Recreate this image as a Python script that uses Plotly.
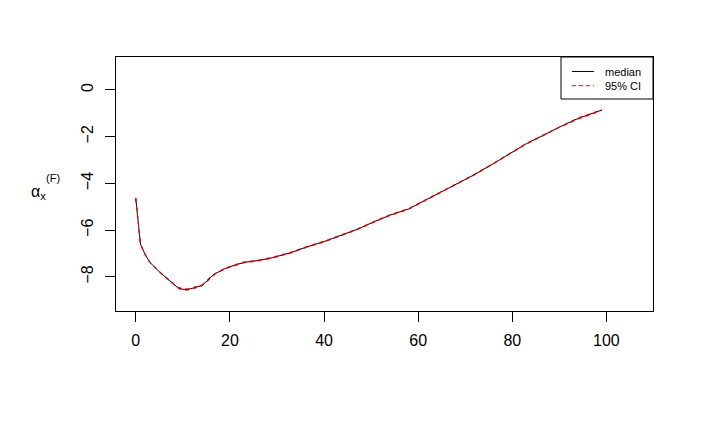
import plotly.graph_objects as go

ages = [0, 1, 2, 3, 5, 7, 9, 10, 11, 12, 14, 15, 16, 17, 19, 21, 23, 26, 29, 33,
        36, 40, 44, 47, 51, 54, 58, 62, 65, 69, 72, 76, 80, 83, 87, 90, 94, 97, 99]
median = [-4.64, -6.60, -7.05, -7.38, -7.78, -8.12, -8.47, -8.53, -8.54, -8.49,
          -8.37, -8.20, -8.00, -7.85, -7.64, -7.50, -7.38, -7.30, -7.18, -6.96,
          -6.74, -6.49, -6.18, -5.97, -5.61, -5.36, -5.09, -4.67, -4.39, -3.95,
          -3.62, -3.15, -2.66, -2.30, -1.90, -1.59, -1.22, -1.02, -0.86]
ci_lower = [-4.66, -6.63, -7.07, -7.40, -7.80, -8.14, -8.50, -8.56, -8.57, -8.52,
            -8.40, -8.23, -8.03, -7.87, -7.66, -7.52, -7.40, -7.32, -7.20, -6.98,
            -6.76, -6.51, -6.20, -5.99, -5.63, -5.38, -5.11, -4.69, -4.41, -3.97,
            -3.64, -3.17, -2.68, -2.32, -1.92, -1.61, -1.25, -1.05, -0.89]
ci_upper = [-4.62, -6.57, -7.03, -7.36, -7.76, -8.10, -8.44, -8.50, -8.51, -8.46,
            -8.34, -8.17, -7.97, -7.83, -7.62, -7.48, -7.36, -7.28, -7.16, -6.94,
            -6.72, -6.47, -6.16, -5.95, -5.59, -5.34, -5.07, -4.65, -4.37, -3.93,
            -3.60, -3.13, -2.64, -2.28, -1.88, -1.57, -1.19, -0.99, -0.83]

x_ticks = [0, 20, 40, 60, 80, 100]
y_ticks = [-8, -6, -4, -2, 0]
legend_labels = ["median", "95% CI"]
legend_colors = ["black", "red"]
legend_dashes = ["solid", "4px,3px"]

fig = go.Figure()
fig.add_trace(go.Scatter(x=ages, y=median, mode="lines", name="median",
                         line=dict(color="black", width=1)))
fig.add_trace(go.Scatter(x=ages, y=ci_lower, mode="lines", name="95% CI",
                         line=dict(color="red", width=1, dash="4px,4px")))
fig.add_trace(go.Scatter(x=ages, y=ci_upper, mode="lines", name="95% CI",
                         line=dict(color="red", width=1, dash="4px,4px")))

axis_style = dict(showgrid=False, zeroline=False, showline=True, mirror=True,
                  linecolor="black", linewidth=1, ticks="outside", ticklen=10,
                  tickcolor="black", tickfont=dict(size=16, color="black"))

fig.update_xaxes(range=[-4.2, 109.9], tickvals=x_ticks, ticklabelstandoff=5,
                 **axis_style)
fig.update_yaxes(range=[-9.46, 1.41], tickvals=y_ticks, tickangle=-90,
                 ticklabelstandoff=6, **axis_style)

# y axis label: alpha_x^(F)
fig.add_annotation(xref="paper", yref="paper", x=-0.145, y=0.466,
                   text="α<sub>x</sub>", showarrow=False,
                   font=dict(size=16, color="black"), xanchor="center")
fig.add_annotation(xref="paper", yref="paper", x=-0.118, y=0.524,
                   text="(F)", showarrow=False,
                   font=dict(size=11, color="black"), xanchor="center")

# legend box in the top right corner, drawn like R's legend()
fig.add_shape(type="rect", xref="paper", yref="paper",
              x0=0.8287, x1=1, y0=0.8346, y1=1,
              line=dict(color="black", width=1), fillcolor="white", layer="above")
for i in range(len(legend_labels)):
    yy = 0.943 - i * 0.056
    fig.add_shape(type="line", xref="paper", yref="paper",
                  x0=0.849, x1=0.890, y0=yy, y1=yy, layer="above",
                  line=dict(color=legend_colors[i], width=1, dash=legend_dashes[i]))
fig.add_annotation(xref="paper", yref="paper", x=0.907, y=0.915,
                   text="<br>".join(legend_labels), showarrow=False,
                   xanchor="left", yanchor="middle", align="left",
                   font=dict(size=11, color="black"))

fig.update_layout(
    width=710, height=426,
    margin=dict(l=108, r=65, t=49, b=123),
    plot_bgcolor="white", paper_bgcolor="white",
    showlegend=False,
    font=dict(family="Liberation Sans, Arial, sans-serif", color="black"),
)

fig.write_html("out.html")
